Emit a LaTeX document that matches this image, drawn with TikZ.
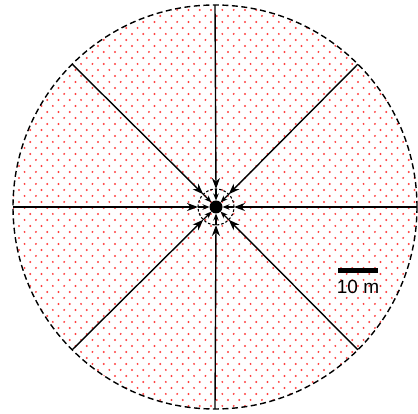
\documentclass[tikz,border=0pt]{standalone}
\usepackage{fontspec}
\setmainfont{Liberation Sans}
\usetikzlibrary{arrows.meta,positioning,calc}

\begin{document}
\begin{tikzpicture}[x=1pt, y=1pt,
        rimc/.style={circle, draw, dashed, dash pattern=on 6pt off 3.5pt, line width=1.4pt, minimum size=404pt, inner sep=0pt, outer sep=0pt},
        ringc/.style={circle, draw, dashed, dash pattern=on 2.5pt off 2pt, line width=1.1pt, minimum size=36pt, inner sep=0pt, outer sep=0pt},
        srcc/.style={circle, fill=black, minimum size=13pt, inner sep=0pt, outer sep=0pt},
        arrow/.style={-{Stealth[length=11pt, width=8pt]}, line width=1.4pt},
        arrowsm/.style={-{Stealth[length=7pt, width=5.5pt]}, line width=1.4pt},
        speck/.style={fill=red!75, draw=none}
    ]
        \useasboundingbox (0,0) rectangle (418,414);

        % Dotted area
        \begin{scope}
            \clip (215,207) circle (202);
            \foreach \i in {0,...,70} {
                \pgfmathsetmacro{\yy}{2+6*\i}
                \pgfmathsetmacro{\xo}{mod(\i,2)*5.65}
                \foreach \j in {0,...,37} {
                    \fill[speck] ({\xo+2+11.3*\j},\yy) circle (1.1);
                }
            }
        \end{scope}

        % Circles
        \node[rimc] (rim) at (215,207) {};
        \node[ringc] (ring) at (216,207) {};
        \node[srcc] (src) at (216,207) {};

        % Arrows
        \foreach \a in {0,45,...,315} {
            \draw[arrow] (rim.\a) -- (ring.\a);
            \draw[arrowsm] (ring.\a) -- (src.\a);
        }

        % Scale bar
        \coordinate (barl) at (338,143);
        \coordinate (barr) at (378,143);
        \draw[line width=5pt] (barl) -- (barr);
        \node[font=\fontsize{19}{22}\selectfont, below=6pt of $(barl)!0.5!(barr)$] (lbl) {10 m};
    \end{tikzpicture}
\end{document}
